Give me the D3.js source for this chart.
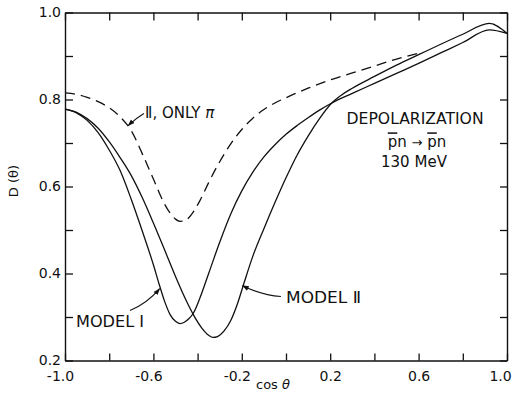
<!DOCTYPE html>
<html>
<head>
<meta charset="utf-8">
<script src="https://cdn.jsdelivr.net/npm/d3@7"></script>
<style>
  html, body { margin: 0; padding: 0; background: #fff; }
  svg { display: block; }
  text { font-family: "DejaVu Sans", "Liberation Sans", sans-serif; fill: #111; }
</style>
</head>
<body>
<svg id="chart" width="514" height="404"></svg>
<script>
// ---- data ----
const xTicks = [-1.0, -0.8, -0.6, -0.4, -0.2, 0.0, 0.2, 0.4, 0.6, 0.8, 1.0];
const xLabels = ["-1.0", "-0.6", "-0.2", "0.2", "0.6", "1.0"];
const yTicks = [0.2, 0.3, 0.4, 0.5, 0.6, 0.7, 0.8, 0.9, 1.0];
const yLabels = ["0.2", "0.4", "0.6", "0.8", "1.0"];

const modelI = [
  [-1.0, 0.778], [-0.95, 0.770], [-0.9, 0.752], [-0.85, 0.724], [-0.8, 0.684],
  [-0.75, 0.636], [-0.7, 0.570], [-0.65, 0.497], [-0.6, 0.420], [-0.575, 0.377],
  [-0.55, 0.337], [-0.525, 0.306], [-0.5, 0.290], [-0.48, 0.285], [-0.46, 0.288],
  [-0.44, 0.296], [-0.42, 0.308], [-0.39, 0.343], [-0.35, 0.400], [-0.3, 0.472],
  [-0.25, 0.537], [-0.2, 0.590], [-0.15, 0.633], [-0.1, 0.668], [-0.05, 0.696],
  [0.0, 0.720], [0.05, 0.740], [0.1, 0.758], [0.15, 0.775], [0.207, 0.792],
  [0.3, 0.814], [0.4, 0.837], [0.5, 0.860], [0.6, 0.883], [0.7, 0.907],
  [0.8, 0.931], [0.92, 0.960], [1.0, 0.952]
];

const modelII = [
  [-1.0, 0.778], [-0.95, 0.771], [-0.9, 0.756], [-0.85, 0.734], [-0.8, 0.703],
  [-0.75, 0.666], [-0.7, 0.625], [-0.65, 0.574], [-0.6, 0.516], [-0.55, 0.455],
  [-0.5, 0.393], [-0.45, 0.336], [-0.42, 0.306], [-0.38, 0.274], [-0.35, 0.258],
  [-0.33, 0.253], [-0.31, 0.255], [-0.28, 0.268], [-0.25, 0.292], [-0.22, 0.330],
  [-0.19, 0.378], [-0.15, 0.440], [-0.1, 0.503], [-0.05, 0.563], [0.0, 0.620],
  [0.05, 0.672], [0.1, 0.716], [0.15, 0.755], [0.207, 0.792], [0.25, 0.810],
  [0.3, 0.826], [0.4, 0.853], [0.5, 0.879], [0.6, 0.903], [0.7, 0.927],
  [0.8, 0.950], [0.92, 0.975], [1.0, 0.952]
];

const onlyPi = [
  [-1.0, 0.815], [-0.95, 0.812], [-0.9, 0.805], [-0.85, 0.795], [-0.8, 0.781],
  [-0.75, 0.760], [-0.7, 0.728], [-0.65, 0.675], [-0.6, 0.617], [-0.55, 0.560],
  [-0.52, 0.536], [-0.5, 0.525], [-0.48, 0.520], [-0.46, 0.521], [-0.44, 0.528],
  [-0.42, 0.541], [-0.39, 0.567], [-0.35, 0.609], [-0.3, 0.657], [-0.25, 0.698],
  [-0.2, 0.731], [-0.15, 0.757], [-0.1, 0.777], [-0.05, 0.792], [0.0, 0.804],
  [0.1, 0.826], [0.2, 0.845], [0.3, 0.861], [0.4, 0.877], [0.5, 0.893], [0.62, 0.909]
];

// ---- scales ----
const svg = d3.select("#chart");
const x = d3.scaleLinear().domain([-1, 1]).range([65, 507]);
const y = d3.scaleLinear().domain([0.2, 1.0]).range([360.5, 12.5]);

// arrow marker
svg.append("defs").append("marker")
  .attr("id", "ah").attr("viewBox", "0 0 10 10")
  .attr("refX", 9).attr("refY", 5)
  .attr("markerWidth", 7).attr("markerHeight", 7)
  .attr("markerUnits", "userSpaceOnUse")
  .attr("orient", "auto")
  .append("path").attr("d", "M0,1.5 L10,5 L0,8.5 Z").attr("fill", "#111");

// ---- axes ----
const fmtX = d => { const s = d3.format(".1f")(d).replace("−", "-"); return xLabels.includes(s) ? s : ""; };
const fmtY = d => { const s = d3.format(".1f")(d); return yLabels.includes(s) ? s : ""; };

const gB = svg.append("g").attr("transform", `translate(0,${y(0.2)})`)
  .call(d3.axisBottom(x).tickValues(xTicks).tickFormat(fmtX).tickSizeInner(-7).tickSizeOuter(0).tickPadding(11));
gB.selectAll("text").attr("dx", d => d < 0 ? -5 : (d >= 1 ? -7 : 0));
const gT = svg.append("g").attr("transform", `translate(0,${y(1.0)})`)
  .call(d3.axisTop(x).tickValues(xTicks).tickFormat("").tickSizeInner(-8).tickSizeOuter(0));
const gL = svg.append("g").attr("transform", `translate(${x(-1)},0)`)
  .call(d3.axisLeft(y).tickValues(yTicks).tickFormat(fmtY).tickSizeInner(-8).tickSizeOuter(0).tickPadding(4));
const gR = svg.append("g").attr("transform", `translate(${x(1)},0)`)
  .call(d3.axisRight(y).tickValues(yTicks).tickFormat("").tickSizeInner(-7).tickSizeOuter(0));

svg.selectAll(".domain").attr("stroke", "#111").attr("stroke-width", 1.4);
svg.selectAll(".tick line").attr("stroke", "#111").attr("stroke-width", 1.3);
svg.selectAll(".tick text").attr("font-size", 14).attr("fill", "#111")
  .attr("font-family", "DejaVu Sans, sans-serif");

// axis titles
svg.append("text").attr("transform", `translate(18,${181}) rotate(-90)`)
  .attr("text-anchor", "middle").attr("font-size", 13).text("D (θ)");
svg.append("text").attr("x", 256).attr("y", 389).attr("font-size", 13)
  .text("cos ").append("tspan").attr("font-style", "italic").text("θ");

// ---- curves ----
const line = d3.line().x(d => x(d[0])).y(d => y(d[1])).curve(d3.curveMonotoneX);
svg.append("path").datum(modelI).attr("d", line)
  .attr("fill", "none").attr("stroke", "#111").attr("stroke-width", 1.3);
svg.append("path").datum(modelII).attr("d", line)
  .attr("fill", "none").attr("stroke", "#111").attr("stroke-width", 1.3);
svg.append("path").datum(onlyPi).attr("d", line)
  .attr("fill", "none").attr("stroke", "#111").attr("stroke-width", 1.3)
  .attr("stroke-dasharray", "10,6");

// ---- annotations ----
const ann = (px, py, str, size, len) => {
  const t = svg.append("text").attr("x", x(px)).attr("y", y(py)).attr("font-size", size).text(str);
  if (len) t.attr("textLength", len).attr("lengthAdjust", "spacingAndGlyphs");
  return t;
};
const arrow = (p0, c, p1) => {
  svg.append("path")
    .attr("d", `M${x(p0[0])},${y(p0[1])} Q${x(c[0])},${y(c[1])} ${x(p1[0])},${y(p1[1])}`)
    .attr("fill", "none").attr("stroke", "#111").attr("stroke-width", 1.1)
    .attr("marker-end", "url(#ah)");
};

// II, ONLY pi
const t1 = svg.append("text").attr("x", x(-0.638)).attr("y", y(0.757)).attr("font-size", 15);
t1.append("tspan").text("Ⅱ, ONLY ");
t1.append("tspan").attr("font-style", "italic").text("π");
arrow([-0.643, 0.768], [-0.68, 0.757], [-0.714, 0.740]);

// MODEL I
ann(-0.950, 0.278, "MODEL Ⅰ", 15, 68);
arrow([-0.706, 0.315], [-0.63, 0.33], [-0.572, 0.365]);

// MODEL II
ann(0.0, 0.332, "MODEL Ⅱ", 15, 75);
arrow([-0.023, 0.347], [-0.11, 0.350], [-0.197, 0.372]);

// legend block
svg.append("text").attr("x", x(0.584)).attr("y", y(0.743)).attr("text-anchor", "middle")
  .attr("font-size", 15).attr("textLength", 137).attr("lengthAdjust", "spacingAndGlyphs")
  .text("DEPOLARIZATION");
const t2 = svg.append("text").attr("x", x(0.593)).attr("y", y(0.690)).attr("text-anchor", "middle")
  .attr("font-size", 15);
t2.append("tspan").attr("text-decoration", "overline").text("p");
t2.append("tspan").text("n ");
t2.append("tspan").attr("font-size", 13).text("→");
t2.append("tspan").text(" ");
t2.append("tspan").attr("text-decoration", "overline").text("p");
t2.append("tspan").text("n");
svg.append("text").attr("x", x(0.579)).attr("y", y(0.645)).attr("text-anchor", "middle")
  .attr("font-size", 15).attr("textLength", 66).attr("lengthAdjust", "spacingAndGlyphs")
  .text("130 MeV");
</script>
</body>
</html>
